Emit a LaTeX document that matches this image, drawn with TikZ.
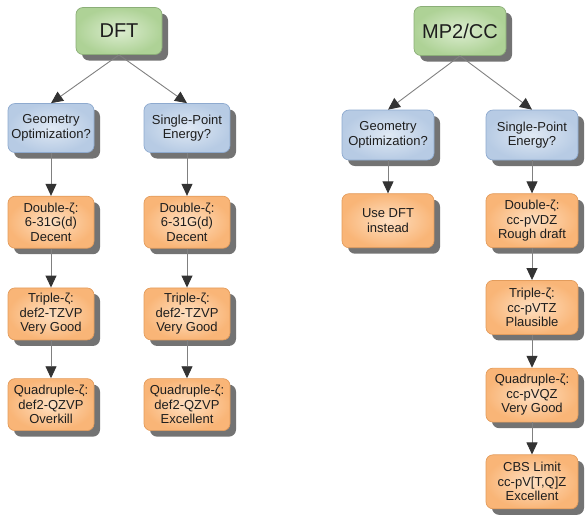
\documentclass[tikz,border=0pt]{standalone}
\usepackage{fontspec}
\setmainfont{Liberation Sans}
\usepackage{tikz}
\usetikzlibrary{positioning, shadows, arrows.meta}

\definecolor{greenin}{HTML}{DCEDD0}
\definecolor{greenout}{HTML}{AED296}
\definecolor{greenline}{HTML}{8BAE78}
\definecolor{bluein}{HTML}{E0E9F4}
\definecolor{blueout}{HTML}{B7CBE4}
\definecolor{blueline}{HTML}{8EAACF}
\definecolor{orangein}{HTML}{FEE0C2}
\definecolor{orangeout}{HTML}{F9B577}
\definecolor{orangeline}{HTML}{E39C5C}
\definecolor{txt}{HTML}{1E1E1E}

\begin{document}
\begin{tikzpicture}[x=1pt, y=-1pt, font=\fontsize{13}{14.5}\selectfont, text=txt]

	\tikzstyle{arrow} = [draw=black!50, line width=0.9pt, -{Triangle[length=12pt,width=11pt,color=black!80]}]
	\tikzstyle{box} = [rectangle, rounded corners=7pt, align=center, line width=0.7pt, inner sep=3pt,
	drop shadow={shadow xshift=6pt, shadow yshift=-6pt, fill=black!55, opacity=1}]
	\tikzstyle{method} = [box, draw=greenline, inner color=greenin, outer color=greenout, font=\fontsize{20}{22}\selectfont]
	\tikzstyle{task} = [box, draw=blueline, inner color=bluein, outer color=blueout]
	\tikzstyle{basis} = [box, draw=orangeline, inner color=orangein, outer color=orangeout]

	\useasboundingbox (0,0) rectangle (585,515);

	% DFT side
	\node[method, minimum width=86pt, minimum height=47pt] (dft) at (119,31) {DFT};
	\node[task, minimum width=86pt, minimum height=49pt] (dftgeom) at (51,128) {Geometry\\Optimization?};
	\node[task, minimum width=86pt, minimum height=49pt] (dftsp) at (187,128) {Single-Point\\Energy?};

	\node[basis, minimum width=86pt, minimum height=52pt, below=43pt of dftgeom] (dftgeomdz) {Double-ζ:\\6-31G(d)\\Decent};
	\node[basis, minimum width=86pt, minimum height=52pt, below=39pt of dftgeomdz] (dftgeomtz) {Triple-ζ:\\def2-TZVP\\Very Good};
	\node[basis, minimum width=86pt, minimum height=52pt, below=38pt of dftgeomtz] (dftgeomqz) {Quadruple-ζ:\\def2-QZVP\\Overkill};

	\node[basis, minimum width=86pt, minimum height=52pt, below=43pt of dftsp] (dftspdz) {Double-ζ:\\6-31G(d)\\Decent};
	\node[basis, minimum width=86pt, minimum height=52pt, below=39pt of dftspdz] (dftsptz) {Triple-ζ:\\def2-TZVP\\Very Good};
	\node[basis, minimum width=86pt, minimum height=52pt, below=38pt of dftsptz] (dftspqz) {Quadruple-ζ:\\def2-QZVP\\Excellent};

	% MP2/CC side
	\node[method, minimum width=92pt, minimum height=49pt] (mp) at (460,31) {MP2/CC};
	\node[task, minimum width=92pt, minimum height=50pt] (mpgeom) at (388,135) {Geometry\\Optimization?};
	\node[task, minimum width=92pt, minimum height=50pt] (mpsp) at (532,135) {Single-Point\\Energy?};

	\node[basis, minimum width=92pt, minimum height=54pt, below=33pt of mpgeom] (mpgeomdft) {Use DFT\\instead};

	\node[basis, minimum width=92pt, minimum height=54pt, below=33pt of mpsp] (mpspdz) {Double-ζ:\\cc-pVDZ\\Rough draft};
	\node[basis, minimum width=92pt, minimum height=54pt, below=32pt of mpspdz] (mpsptz) {Triple-ζ:\\cc-pVTZ\\Plausible};
	\node[basis, minimum width=92pt, minimum height=54pt, below=33pt of mpsptz] (mpspqz) {Quadruple-ζ:\\cc-pVQZ\\Very Good};
	\node[basis, minimum width=92pt, minimum height=54pt, below=32pt of mpspqz] (mpcbs) {CBS Limit\\cc-pV[T,Q]Z\\Excellent};

	\draw [arrow] (dft.south) -- (dftgeom.north);
	\draw [arrow] (dft.south) -- (dftsp.north);
	\draw [arrow] (dftgeom) -- (dftgeomdz);
	\draw [arrow] (dftgeomdz) -- (dftgeomtz);
	\draw [arrow] (dftgeomtz) -- (dftgeomqz);
	\draw [arrow] (dftsp) -- (dftspdz);
	\draw [arrow] (dftspdz) -- (dftsptz);
	\draw [arrow] (dftsptz) -- (dftspqz);

	\draw [arrow] (mp.south) -- (mpgeom.north);
	\draw [arrow] (mp.south) -- (mpsp.north);
	\draw [arrow] (mpgeom) -- (mpgeomdft);
	\draw [arrow] (mpsp) -- (mpspdz);
	\draw [arrow] (mpspdz) -- (mpsptz);
	\draw [arrow] (mpsptz) -- (mpspqz);
	\draw [arrow] (mpspqz) -- (mpcbs);

\end{tikzpicture}
\end{document}
